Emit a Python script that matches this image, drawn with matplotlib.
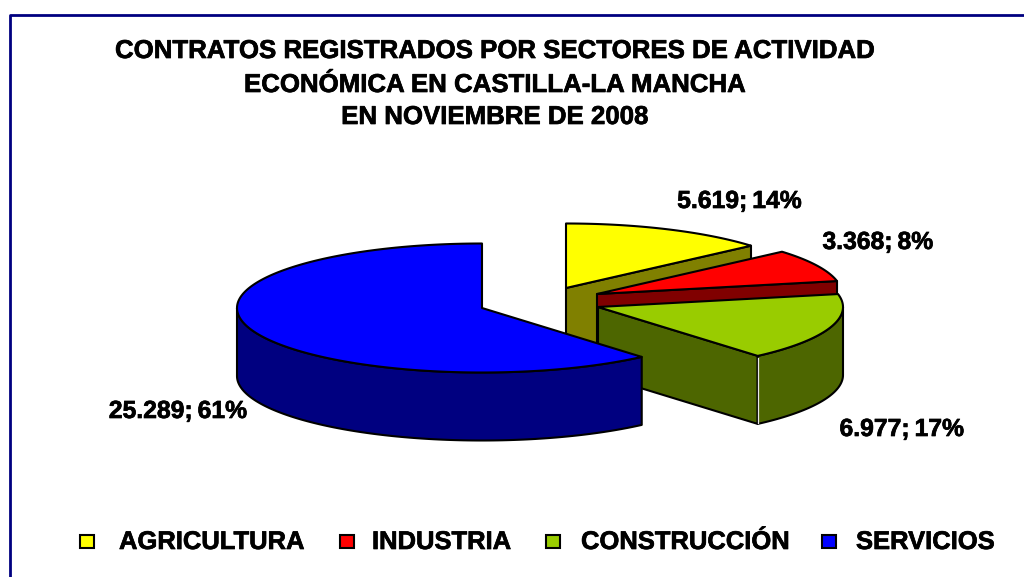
import matplotlib
matplotlib.use("Agg")
import matplotlib.pyplot as plt
import matplotlib.patheffects as pe
import numpy as np

plt.rcParams['font.family'] = ['Liberation Sans', 'DejaVu Sans']

sectors = ["AGRICULTURA", "INDUSTRIA", "CONSTRUCCIÓN", "SERVICIOS"]
contracts = [5619, 3368, 6977, 25289]
top_colors = ["#FFFF00", "#FF0000", "#99CC00", "#0000FF"]
wall_colors = ["#808000", "#800000", "#4D6600", "#000080"]
title_lines = ["CONTRATOS REGISTRADOS POR SECTORES DE ACTIVIDAD",
               "ECONÓMICA EN CASTILLA-LA MANCHA",
               "EN NOVIEMBRE DE 2008"]

# pie geometry in pixels: where each exploded slice has its apex
apex = [(566, 288), (597, 294), (598, 307), (482, 308)]
rx, ry, depth = 245, 64.5, 68
label_pos = [(739.5, 201), (878, 242), (902, 429), (178, 411)]
legend_box_x = [80, 340, 546, 822]
legend_text_x = [119, 372, 581, 856]
heavy = [pe.withStroke(linewidth=0.5, foreground="black")]


def rim(cx, cy, a0, a1):
    # angles in degrees, clockwise from 12 o'clock
    t = np.radians(np.arange(a0, a1, 1.0).tolist() + [a1])
    return cx + rx * np.sin(t), cy - ry * np.cos(t)


def poly(ax, x, y, color, z):
    ax.fill(x, y, facecolor=color, edgecolor="black", linewidth=1.5, joinstyle="round", zorder=z)


fig = plt.figure(figsize=(10.24, 5.77), dpi=100)
ax = fig.add_axes([0, 0, 1, 1])
ax.set_xlim(0, 1024)
ax.set_ylim(577, 0)
ax.axis("off")

# frame, cut by the right and bottom edge of the picture
ax.plot([9.5, 9.5, 1030], [590, 14.5, 14.5], color="#000080", lw=2, zorder=1)

for i, line in enumerate(title_lines):
    ax.text(495, [51, 85, 117][i], line, ha="center", va="center", fontsize=18.6,
            fontweight="bold", path_effects=heavy)

edges = np.cumsum([0] + contracts) / sum(contracts) * 360
total = sum(contracts)

for i in range(len(contracts)):
    cx, cy = apex[i]
    a0, a1 = edges[i], edges[i + 1]
    z = 2 + i
    tx, ty = rim(cx, cy, a0, a1)

    # cut face at the end of the slice, only visible when it faces the viewer
    if a1 < 180:
        ex, ey = rim(cx, cy, a1, a1)
        poly(ax, [cx, ex[0], ex[0], cx], [cy, ey[0], ey[0] + depth, cy + depth], wall_colors[i], z)

    # outer wall, front half of the rim only
    f0, f1 = max(a0, 90), min(a1, 270)
    if f1 > f0:
        wx, wy = rim(cx, cy, f0, f1)
        poly(ax, np.r_[wx, wx[::-1]], np.r_[wy, wy[::-1] + depth], wall_colors[i], z)

    # light seam on the corner between the two faces of the green slice
    if a0 < 180 and a1 < 180 and a1 > 90:
        ex, ey = rim(cx, cy, a1, a1)
        ax.plot([ex[0], ex[0]], [ey[0] + 2, ey[0] + depth - 1], color="#E8E8E8", lw=0.9, zorder=z + 0.5)

    poly(ax, np.r_[cx, tx], np.r_[cy, ty], top_colors[i], z + 0.6)

    text = "{};\u2009{}%".format(f"{contracts[i]:,}".replace(",", "."), round(contracts[i] / total * 100))
    ax.text(label_pos[i][0], label_pos[i][1], text, ha="center", va="center",
            fontsize=17.8, fontweight="bold", zorder=10, path_effects=heavy)

for i, name in enumerate(sectors):
    ax.add_patch(plt.Rectangle((legend_box_x[i], 535), 14, 13, facecolor=top_colors[i],
                               edgecolor="black", linewidth=1.5))
    ax.text(legend_text_x[i], 542, name, ha="left", va="center", fontsize=18.4,
            fontweight="bold", path_effects=heavy)

fig.savefig("out.png", dpi=100)
